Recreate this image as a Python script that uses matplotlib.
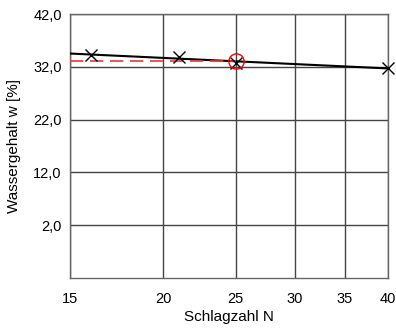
import numpy as np
import matplotlib
matplotlib.use("Agg")
import matplotlib.pyplot as plt
from matplotlib.ticker import FixedLocator, FixedFormatter, NullLocator

plt.rcParams['font.family'] = ['Liberation Sans', 'DejaVu Sans']

# Fließgrenzenversuch: Schlagzahl und zugehöriger Wassergehalt
schlagzahl = [16, 21, 25, 40]
wassergehalt = [34.2, 33.9, 32.8, 31.7]

x_ticks = [15, 20, 25, 30, 35, 40]
x_labels = ["15", "20", "25", "30", "35", "40"]
y_ticks = [2.0, 12.0, 22.0, 32.0, 42.0]
y_labels = ["2,0", "12,0", "22,0", "32,0", "42,0"]

# Ausgleichsgerade im halblogarithmischen Maßstab
k, d = np.polyfit(np.log(schlagzahl), wassergehalt, 1)
n_line = np.array([15, 40])
w_line = k * np.log(n_line) + d
w_L = k * np.log(25) + d

fig = plt.figure(figsize=(3.96, 3.31), dpi=100)
ax = fig.add_axes([70 / 396, 1 - 278 / 331, 318 / 396, 264 / 331])

ax.set_xscale('log')
ax.set_xlim(15, 40)
ax.set_ylim(-8, 42)

ax.xaxis.set_major_locator(FixedLocator(x_ticks))
ax.xaxis.set_major_formatter(FixedFormatter(x_labels))
ax.xaxis.set_minor_locator(NullLocator())
ax.yaxis.set_major_locator(FixedLocator(y_ticks))
ax.yaxis.set_major_formatter(FixedFormatter(y_labels))

ax.grid(True, color='#444444', linewidth=1.0)
ax.tick_params(length=0, labelsize=10.5, colors='black')
ax.tick_params(axis='x', pad=10)
ax.tick_params(axis='y', pad=6)
for s in ax.spines.values():
    s.set_color('#666666')
    s.set_linewidth(1.0)

ax.plot(n_line, w_line, color='black', linewidth=1.5, zorder=3)
ax.plot([15, 25], [w_L, w_L], color='#e8393b', linewidth=1.2,
        dashes=(8, 4), zorder=3)
ax.plot(schlagzahl, wassergehalt, linestyle='none', marker='x',
        markersize=8.5, markeredgewidth=1.0, color='black', zorder=4,
        clip_on=False)
ax.plot([25], [w_L], marker='o', markersize=11, markerfacecolor='none',
        markeredgecolor='red', markeredgewidth=1.0, zorder=5)

ax.set_xlabel("Schlagzahl N", fontsize=11, labelpad=3)
ax.set_ylabel("Wassergehalt w [%]", fontsize=11, labelpad=9)

fig.savefig("out.png", dpi=100)
